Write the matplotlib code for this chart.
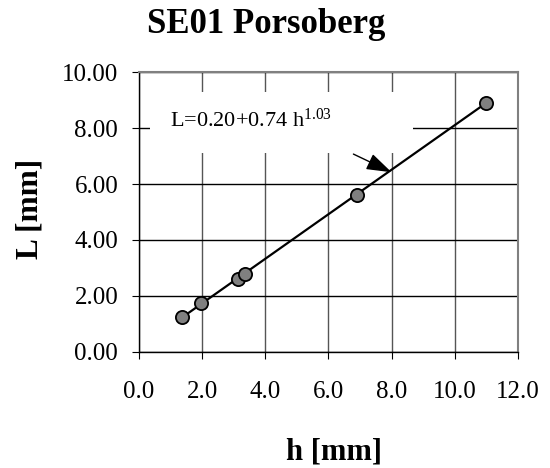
import matplotlib.pyplot as plt

plt.rcParams['font.family'] = ['Liberation Serif', 'DejaVu Serif']
plt.rcParams['mathtext.fontset'] = 'custom'
plt.rcParams['mathtext.rm'] = 'Liberation Serif'
plt.rcParams['mathtext.it'] = 'Liberation Serif:italic'

h = [1.35, 1.97, 3.12, 3.37, 6.9, 11.0]
L = [1.24, 1.74, 2.62, 2.78, 5.6, 8.88]
fit_h = [1.35, 11.0]
fit_L = [1.22, 8.9]
xticks = [0, 2, 4, 6, 8, 10, 12]
yticks = [0, 2, 4, 6, 8, 10]

fig = plt.figure(figsize=(5.5, 4.68), dpi=100)
ax = fig.add_axes([0.2527, 0.248, 0.689, 0.598])
ax.set_xlim(0, 12)
ax.set_ylim(0, 10)

ax.grid(axis='y', color='black', lw=1.0)
ax.grid(axis='x', color='#555555', lw=1.0)
ax.set_axisbelow(True)

ax.plot(fit_h, fit_L, color='black', lw=1.6, zorder=3)
ax.plot(h, L, 'o', ms=9.5, mfc='#808080', mec='black', mew=1.3, zorder=4)

# white box behind the equation hides the grid
ax.add_patch(plt.Rectangle((0.35, 7.1), 8.33, 2.2, facecolor='white',
                           edgecolor='none', zorder=2))
ax.text(0.98, 8.05, 'L=0.20+0.74 h$^{1.03}$', fontsize=16, va='baseline',
        zorder=5)
ax.annotate('', xy=(8.0, 6.42), xytext=(6.79, 7.07),
            arrowprops=dict(arrowstyle='-|>,head_length=0.6,head_width=0.2',
                            color='black', lw=1.0, mutation_scale=26,
                            shrinkA=0, shrinkB=0), zorder=6)

ax.set_xticks(xticks)
ax.set_xticklabels(['%.1f' % v for v in xticks])
ax.set_yticks(yticks)
ax.set_yticklabels(['%.2f' % v for v in yticks])
ax.tick_params(axis='both', labelsize=18, direction='out', length=5,
               color='black')
ax.tick_params(axis='x', pad=16)
ax.tick_params(axis='y', pad=10)

for s in ['top', 'right']:
    ax.spines[s].set_color('#808080')
    ax.spines[s].set_linewidth(1.5)
for s in ['left', 'bottom']:
    ax.spines[s].set_color('black')
    ax.spines[s].set_linewidth(1.0)

fig.text(334 / 550, 1 - 459 / 468, 'h [mm]', fontsize=22, fontweight='bold',
         ha='center', va='baseline')
fig.text(29.5 / 550, 1 - 208.5 / 468, 'L [mm]', fontsize=22.5,
         fontweight='bold', ha='center', va='center', rotation=90)
fig.text(266.5 / 550, 1 - 33 / 468, 'SE01 Porsoberg', fontsize=25,
         fontweight='bold', ha='center', va='baseline')

fig.savefig('out.png', dpi=100)
